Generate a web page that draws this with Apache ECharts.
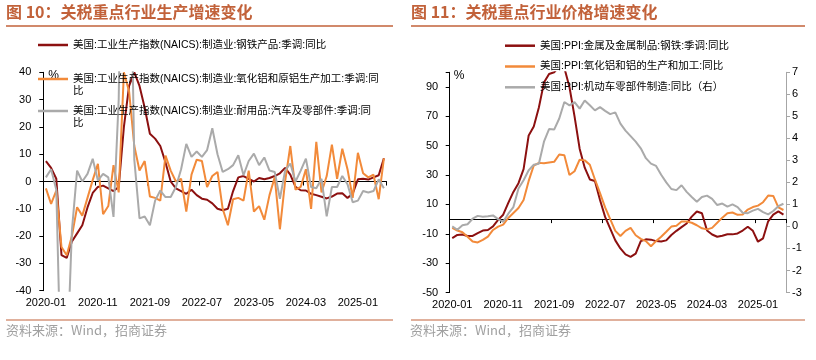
<!DOCTYPE html>
<html>
<head>
<meta charset="utf-8">
<script src="https://cdn.jsdelivr.net/npm/echarts@6.0.0/dist/echarts.min.js"></script>
<style>
html,body{margin:0;padding:0;background:#fff;}
#chart{width:816px;height:360px;}
</style>
</head>
<body>
<div id="chart"></div>
<script>
// ---- categories (monthly, 2020-01 .. 2025-06) ----
var months = [
  '2020-01','2020-02','2020-03','2020-04','2020-05','2020-06','2020-07','2020-08','2020-09','2020-10','2020-11','2020-12',
  '2021-01','2021-02','2021-03','2021-04','2021-05','2021-06','2021-07','2021-08','2021-09','2021-10','2021-11','2021-12',
  '2022-01','2022-02','2022-03','2022-04','2022-05','2022-06','2022-07','2022-08','2022-09','2022-10','2022-11','2022-12',
  '2023-01','2023-02','2023-03','2023-04','2023-05','2023-06','2023-07','2023-08','2023-09','2023-10','2023-11','2023-12',
  '2024-01','2024-02','2024-03','2024-04','2024-05','2024-06','2024-07','2024-08','2024-09','2024-10','2024-11','2024-12',
  '2025-01','2025-02','2025-03','2025-04','2025-05','2025-06'
];

// ---- left chart: industrial production yoy (%) ----
var leftNames = [
  '美国:工业生产指数(NAICS):制造业:钢铁产品:季调:同比',
  '美国:工业生产指数(NAICS):制造业:氧化铝和原铝生产加工:季调:同比',
  '美国:工业生产指数(NAICS):制造业:耐用品:汽车及零部件:季调:同比'
];
var steelIP = [7.5, 5, 1, -27, -28, -22, -19, -16, -9.5, -4.2,
  -2, -1.5, -2.5, -3.5, -2, 20, 35, 40, 35, 27,
  17.5, 15.7, 13, 7, 0, -2.5, -3.5, -4.5, -3, -5,
  -6.3, -6.7, -8, -10, -10.5, -10, -3.5, 1.5, 2, 1,
  0, 1.3, 0.8, 1.3, 2, 3, 5, 2.5, -2, -3.2,
  -3.3, -4.5, -5, -5.6, -6.2, -5.5, -4.4, -4.3, -6, -4.5,
  0.8, 1, 0.7, 1.5, 2.3, 8.5];
var aluminaIP = [-2.5, -8.2, -3.3, -24, -27, -20, -9.4, -12.5, -6, 0.5,
  6.5, -12, -9, 6, -4, 40, 33, 13, 4, 7.5,
  -5.5, -6, -7, 9.5, 4, 0, 1, -11, 2.5, 8,
  7.5, -2, 2, 3.5, -10, -16, -6.5, -6, -7, 4,
  -11, -9, -14, -5, 1.5, -17.5, 0, 13, -3, -2,
  4.5, -10, 14.5, -4, 2, 13.5, 1, 12, 4.5, -6,
  10.5, 3, 1.5, 2.5, -6.5, 8.5];
var autoIP = [1.5, 4.5, -3, -80, -70, -18, 4, 0, 2.8, 8.3,
  0.4, 2.8, 1.5, -13, 30, 150, 120, 8, -13.5, -12.8,
  -16, -7, -3.3, -5.7, -5.7, -2, 4.5, 13.8, 9, 11,
  9, 11.5, 19.5, 10, 3.5, 4.5, 6, 9.6, 2.3, 7.5,
  10.2, 6, 8.8, 4, 3.5, -6.3, 4, 6.6, 0, 4,
  8.4, -2, -2.5, 1, -12.8, -2, -2, 2, -1, -7.6,
  -7, -3.5, -4, -3.5, 0.8, -2.5];

// ---- right chart: PPI yoy (%) ----
var rightNames = [
  '美国:PPI:金属及金属制品:钢铁:季调:同比',
  '美国:PPI:氧化铝和铝的生产和加工:同比',
  '美国:PPI:机动车零部件制造:同比（右）'
];
var steelPPI = [-13, -10.8, -10.5, -11.5, -11.5, -9.5, -7.8, -7.4, -5, -0.5,
  3, 11, 18.5, 24.5, 34, 57, 63, 76, 93, 98.8,
  100, 104, 103, 90, 70, 48, 35, 27, 26, 13,
  1.5, -6.5, -14.5, -20, -24, -25.7, -23.5, -15, -13.8, -14,
  -15, -15.2, -14.5, -10.8, -8, -5.5, -3, 1.7, 5.2, 4,
  -7.8, -10.5, -12, -11.3, -10.3, -10.4, -9.8, -7.8, -5.2, -8,
  -15.4, -13.1, -1.5, 3, 5.2, 3];
var aluPPI = [-6, -7.8, -9, -12, -15.2, -15.9, -14.2, -12, -7.4, -5.1,
  -3.8, 0.8, 4.2, 7.6, 13, 26, 36.5, 38.3, 38, 38.5,
  39, 44, 43.5, 30, 32.6, 40.5, 40, 37, 27, 17.7,
  8, 0, -8, -11.5, -8, -6, -11, -13.5, -15, -18.5,
  -15, -12, -8.6, -5.1, -4.5, -1.7, -1.7, -2.5, -4.2, -6.3,
  -7, -6, -2.5, 1, 4, 4.5, 2.9, 3.2, 6.5, 8.2,
  9.2, 11.5, 16, 15.8, 8, 6.2];
var autoPPI = [0, -0.15, 0.05, 0.1, 0.35, 0.48, 0.44, 0.46, 0.5, 0.33,
  0.21, 0.58, 0.88, 1.72, 2.1, 2.55, 2.8, 2.85, 3.85, 4.42,
  4.4, 4.9, 5.65, 5.5, 5.65, 5.35, 5.72, 5.5, 5.27, 5.42,
  5.25, 5.1, 5.18, 4.67, 4.35, 4.1, 3.85, 3.55, 3.1, 2.85,
  2.75, 2.35, 2.0, 1.7, 1.65, 1.87, 1.57, 1.34, 1.12, 1.34,
  1.4, 1.25, 0.97, 1.04, 0.9, 1.0, 0.88, 0.62, 0.6, 0.72,
  0.8, 0.65, 0.55, 0.7, 0.92, 1.03];

// ---- axis settings ----
var leftAxis = {min: -40, max: 40, interval: 10};
var rightAxisL = {min: -50, max: 100, interval: 20};
var rightAxisR = {min: -3, max: 7, interval: 1};

var titles = ['图 10：关税重点行业生产增速变化', '图 11：关税重点行业价格增速变化'];
var source = '资料来源：Wind，招商证券';

var C_RED = '#8C1010', C_ORANGE = '#F28A3A', C_GRAY = '#AAAAAA';
var TITLE_C = '#C2623A';
var FONT = "'Liberation Sans', Arial, 'Noto Sans CJK SC', sans-serif";
var CJK = "'Noto Sans CJK SC', 'Liberation Sans', sans-serif";

var legendText = {fontFamily: FONT, fontSize: 10.5, color: '#000', lineHeight: 12.5};
function legendBase(extra) {
  var o = {orient: 'vertical', icon: 'rect', itemWidth: 30, itemHeight: 2.5, padding: 0, itemGap: 8.3,
    selectedMode: false, textStyle: legendText};
  for (var k in extra) o[k] = extra[k];
  return o;
}
// wrapped legend entries: the last character goes to a second line, as in the source;
// a leading blank line keeps the icon level with the first text line
function wrapLast(name) { return '\n' + name.slice(0, -1) + '\n' + name.slice(-1); }

var axisLabelStyle = {fontFamily: FONT, fontSize: 11, color: '#000'};

function labelX(gi) {
  return {type: 'category', gridIndex: gi, data: months, boundaryGap: true, position: 'bottom',
    axisLine: {show: false, onZero: false}, axisTick: {show: false},
    axisLabel: Object.assign({interval: 9, margin: 7}, axisLabelStyle)};
}
function zeroX(gi, yi) {
  return {type: 'category', gridIndex: gi, data: months, boundaryGap: true, position: 'bottom',
    axisLine: {show: true, onZero: true, onZeroAxisIndex: yi, lineStyle: {color: '#000', width: 1}},
    axisTick: {show: true, interval: 9, length: 4, lineStyle: {color: '#000'}},
    axisLabel: {show: false}};
}
function line(name, data, color, xi, yi) {
  return {type: 'line', name: name, data: data, xAxisIndex: xi, yAxisIndex: yi,
    symbol: 'none', showSymbol: false, smooth: false, clip: true,
    lineStyle: {color: color, width: 2}, itemStyle: {color: color}, emphasis: {disabled: true}};
}

var chart = echarts.init(document.getElementById('chart'), null, {renderer: 'canvas'});
chart.setOption({
  animation: false,
  backgroundColor: '#fff',
  title: [
    {text: titles[0], left: 6, top: 4, padding: 0,
      textStyle: {fontFamily: CJK, fontSize: 16, fontWeight: 'bold', color: TITLE_C}},
    {text: titles[1], left: 411, top: 4, padding: 0,
      textStyle: {fontFamily: CJK, fontSize: 16, fontWeight: 'bold', color: TITLE_C}},
    {text: source, left: 6, top: 324, padding: 0,
      textStyle: {fontFamily: CJK, fontSize: 13, fontWeight: 'normal', color: '#A0A0A0'}},
    {text: source, left: 410, top: 324, padding: 0,
      textStyle: {fontFamily: CJK, fontSize: 13, fontWeight: 'normal', color: '#A0A0A0'}}
  ],
  graphic: [
    {type: 'line', shape: {x1: 6, y1: 26, x2: 393, y2: 26}, style: {stroke: TITLE_C, lineWidth: 1.5}},
    {type: 'line', shape: {x1: 411, y1: 26, x2: 805, y2: 26}, style: {stroke: TITLE_C, lineWidth: 1.5}},
    {type: 'line', shape: {x1: 6, y1: 320, x2: 393, y2: 320}, style: {stroke: TITLE_C, lineWidth: 1.2}},
    {type: 'line', shape: {x1: 411, y1: 320, x2: 805, y2: 320}, style: {stroke: TITLE_C, lineWidth: 1.2}}
  ],
  legend: [
    legendBase({data: [leftNames[0]], left: 38, top: 38.75}),
    legendBase({data: [leftNames[1]], left: 38, top: 60.25, formatter: wrapLast}),
    legendBase({data: [leftNames[2]], left: 38, top: 92.25, formatter: wrapLast}),
    legendBase({data: rightNames, left: 505, top: 39.45})
  ],
  grid: [
    {left: 43.3, right: 429.5, top: 72.3, bottom: 69.3, containLabel: false, outerBoundsMode: 'none'},
    {left: 449.7, right: 30, top: 72.3, bottom: 67.5, containLabel: false, outerBoundsMode: 'none'}
  ],
  xAxis: [labelX(0), zeroX(0, 0), labelX(1), zeroX(1, 1)],
  yAxis: [
    {type: 'value', gridIndex: 0, min: leftAxis.min, max: leftAxis.max, interval: leftAxis.interval,
      axisLine: {show: true, lineStyle: {color: '#000'}},
      axisTick: {show: true, length: 4, lineStyle: {color: '#000'}},
      splitLine: {show: false},
      axisLabel: Object.assign({margin: 12}, axisLabelStyle),
      name: '%', nameLocation: 'end', nameGap: 3,
      nameTextStyle: {align: 'left', verticalAlign: 'top', padding: [0, 0, 0, 5], fontFamily: FONT, fontSize: 12, color: '#000'}},
    {type: 'value', gridIndex: 1, min: rightAxisL.min, max: rightAxisL.max, interval: rightAxisL.interval,
      axisLine: {show: true, lineStyle: {color: '#000'}},
      axisTick: {show: true, length: 4, lineStyle: {color: '#000'}},
      splitLine: {show: false},
      axisLabel: Object.assign({margin: 11.5, formatter: function (v) { return v === rightAxisL.max ? '' : v; }}, axisLabelStyle),
      name: '%', nameLocation: 'end', nameGap: 3,
      nameTextStyle: {align: 'left', verticalAlign: 'top', padding: [0, 0, 0, 4], fontFamily: FONT, fontSize: 12, color: '#000'}},
    {type: 'value', gridIndex: 1, position: 'right', min: rightAxisR.min, max: rightAxisR.max, interval: rightAxisR.interval,
      axisLine: {show: true, lineStyle: {color: '#A6A6A6'}},
      axisTick: {show: true, length: 4, lineStyle: {color: '#A6A6A6'}},
      splitLine: {show: false},
      axisLabel: Object.assign({margin: 6}, axisLabelStyle)}
  ],
  series: [
    line(leftNames[0], steelIP, C_RED, 0, 0),
    line(leftNames[1], aluminaIP, C_ORANGE, 0, 0),
    line(leftNames[2], autoIP, C_GRAY, 0, 0),
    line(rightNames[0], steelPPI, C_RED, 2, 1),
    line(rightNames[1], aluPPI, C_ORANGE, 2, 1),
    line(rightNames[2], autoPPI, C_GRAY, 2, 2)
  ]
});
</script>
</body>
</html>
